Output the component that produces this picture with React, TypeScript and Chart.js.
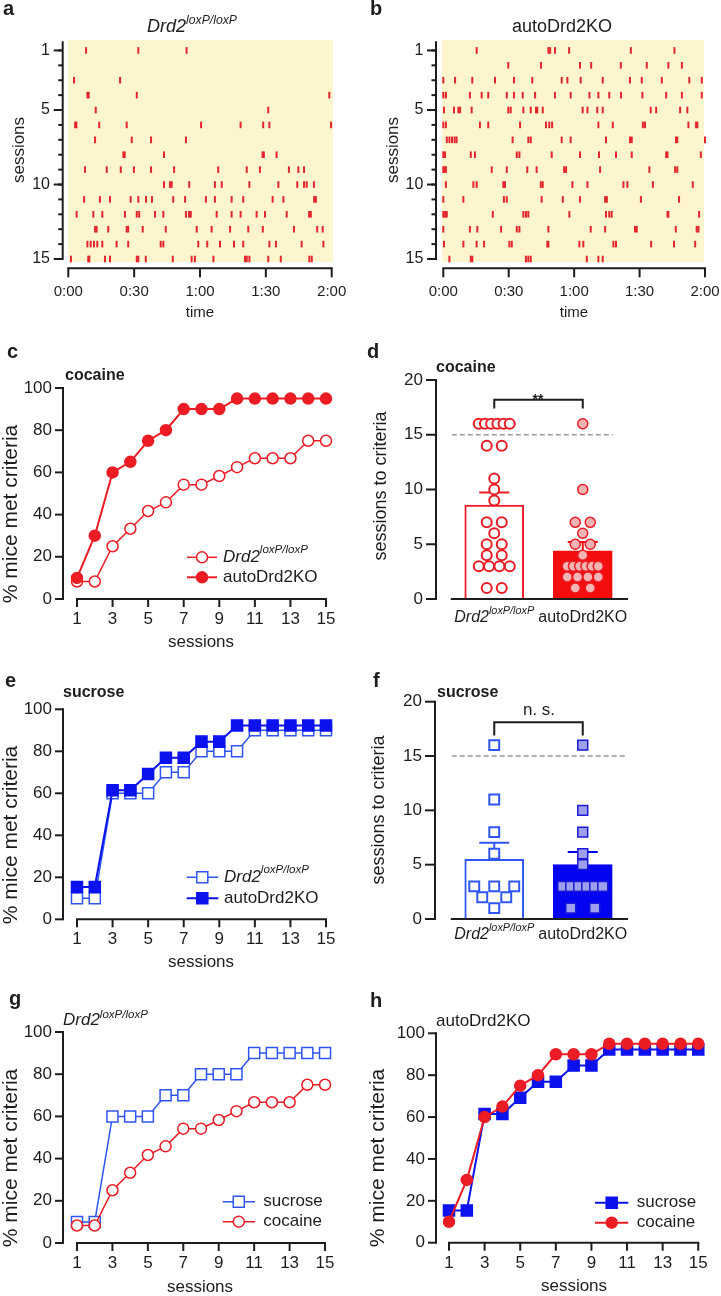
import React, { useEffect, useRef } from 'react';
import { Chart, registerables } from 'chart.js';

Chart.register(...registerables);

const W = 721;
const H = 1296;
const FONT = "'Liberation Sans', Arial, Helvetica, sans-serif";
const INK = '#1d1d1d';
const RED = '#ec1c24';
const BAR_RED = '#f40d0d';
const PINK = '#f5b4b4';
const BLUE = '#0b12ee';
const BLUE_OPEN = '#2f55f2';
const BAR_BLUE = '#0303f2';
const LAVENDER = '#9ea0ee';
const RASTER_RED = '#e3262d';
const RASTER_BG = '#fdf5cd';
const DASH_GRAY = '#9a9a9a';

// ---------------- categories & ticks ----------------
const sessionNumbers = [1, 2, 3, 4, 5, 6, 7, 8, 9, 10, 11, 12, 13, 14, 15];
const sessionTicks = [1, 3, 5, 7, 9, 11, 13, 15];
const percentTicks = [0, 20, 40, 60, 80, 100];
const criteriaTicks = [0, 5, 10, 15, 20];
const rasterMajorTicks = [1, 5, 10, 15];
const timeTicks = [0, 30, 60, 90, 120];
const timeTickLabels = ['0:00', '0:30', '1:00', '1:30', '2:00'];
const groupPositions = [1, 2];
const criterionLine = 15;

// ---------------- raster data (minutes of each lever press, one row per session) ----------------
const floxRasterTimes: number[][] = [
  [8.1, 31.9, 53.9],
  [],
  [2.6, 23.6],
  [8.7, 9.3, 31.2, 118.9],
  [12.5, 91.1],
  [3.1, 3.7, 14.1, 26.6, 60.5, 78.5, 88.8, 91.6, 119.7],
  [12.2, 28.9, 37.7, 53.6],
  [25.1, 25.7, 43.6, 88.5, 89.1, 94.9],
  [7.6, 17.5, 23.9, 29.9, 37.7, 48.2, 68.3, 81.3, 87.3, 100.5, 104.8, 107.4],
  [43.6, 46.3, 47.1, 55.1, 66.8, 69.9, 82.5, 95.7, 104.3, 107.4, 108.6, 111.9],
  [7.2, 14.4, 19.0, 28.4, 31.9, 35.4, 38.1, 47.8, 53.2, 62.7, 66.8, 74.4, 79.7, 93.1, 98.0, 112.0, 112.8],
  [3.8, 11.4, 15.5, 25.8, 31.2, 32.3, 39.5, 43.3, 53.6, 55.0, 55.8, 67.6, 74.4, 78.5, 85.8, 89.6, 99.5, 109.7, 110.5],
  [12.2, 12.9, 18.2, 26.6, 27.3, 33.9, 44.4, 58.5, 65.3, 73.7, 82.0, 88.6, 102.8, 113.4, 115.9],
  [8.7, 10.2, 11.7, 13.2, 15.5, 22.0, 27.3, 42.1, 43.3, 59.2, 63.3, 69.1, 75.5, 79.7, 91.6, 94.6, 106.3, 116.2],
  [1.2, 9.1, 9.6, 16.7, 19.0, 31.2, 31.9, 35.3, 47.6, 56.2, 57.7, 66.1, 80.5, 81.3, 82.5, 91.1, 96.8, 109.8, 110.9],
];

const koRasterTimes: number[][] = [
  [15.3, 48.2, 49.0, 51.2, 57.7, 86.0, 106.0],
  [29.8, 44.8, 62.7, 67.8, 81.4, 93.3, 103.2, 109.4],
  [0, 5.4, 13.3, 23.7, 32.4, 40.8, 54.3, 56.9, 63.0, 73.1, 85.6, 91.0, 100.2, 112.8, 118.5],
  [0, 1.2, 12.2, 17.6, 20.6, 29.1, 32.4, 36.4, 42.1, 51.2, 58.4, 67.0, 71.1, 76.1, 81.5, 91.3, 102.2, 109.4, 118.5],
  [0.3, 4.9, 6.9, 7.7, 13.0, 29.8, 30.9, 36.7, 40.1, 42.5, 43.1, 45.6, 63.9, 66.1, 70.6, 73.1, 95.1, 97.6, 108.6, 111.9],
  [0, 1.2, 16.8, 20.6, 35.2, 47.1, 48.6, 49.9, 71.1, 77.7, 91.5, 92.5, 112.4, 115.9, 116.5],
  [1.6, 2.8, 4.0, 5.2, 6.1, 31.8, 39.0, 40.1, 54.3, 58.4, 74.6, 85.6, 86.4, 106.7, 107.3, 120],
  [0, 0.8, 12.6, 14.5, 33.7, 34.9, 49.7, 62.7, 71.4, 79.2, 86.4, 102.2, 102.8, 118.1],
  [0, 0.6, 1.2, 22.2, 29.1, 38.5, 42.8, 55.4, 56.3, 71.9, 94.5, 106.3, 107.3],
  [1.2, 13.8, 15.3, 27.5, 28.3, 44.7, 45.6, 59.2, 66.1, 82.6, 84.4, 96.1, 114.4],
  [0, 9.2, 27.8, 29.1, 45.1, 54.8, 62.7, 74.2, 75.0, 90.6, 108.1],
  [0, 0.8, 1.6, 22.7, 36.7, 37.9, 39.0, 57.8, 74.6, 76.1, 77.2, 102.8, 103.2, 117.3],
  [0, 12.2, 15.6, 26.5, 33.7, 34.9, 48.2, 67.6, 74.2, 87.9, 88.7, 106.6, 116.2, 117.0],
  [0.3, 9.2, 15.3, 18.7, 30.3, 31.4, 47.7, 48.2, 62.4, 64.2, 78.0, 79.2, 95.3, 105.8, 115.5],
  [2.8, 12.6, 13.3, 37.9, 39.0, 40.1, 65.8, 71.1, 73.1],
];

// ---------------- % mice met criteria per session ----------------
const cocaineFlox = [8.3, 8.3, 25, 33.3, 41.7, 45.8, 54.2, 54.2, 58.3, 62.5, 66.7, 66.7, 66.7, 75, 75];
const cocaineKO = [10, 30, 60, 65, 75, 80, 90, 90, 90, 95, 95, 95, 95, 95, 95];
const sucroseFlox = [10, 10, 60, 60, 60, 70, 70, 80, 80, 80, 90, 90, 90, 90, 90];
const sucroseKO = [15.4, 15.4, 61.5, 61.5, 69.2, 76.9, 76.9, 84.6, 84.6, 92.3, 92.3, 92.3, 92.3, 92.3, 92.3];

// ---------------- sessions to criteria per mouse (16 = not reached) ----------------
const cocaineFloxSessions = [1, 1, 3, 3, 3, 3, 4, 4, 5, 5, 6, 7, 7, 9, 10, 11, 14, 14, 16, 16, 16, 16, 16, 16];
const cocaineKOSessions = [1, 1, 2, 2, 2, 2, 3, 3, 3, 3, 3, 3, 4, 5, 5, 6, 7, 7, 10, 16];
const sucroseFloxSessions = [1, 2, 2, 3, 3, 3, 6, 8, 11, 16];
const sucroseKOSessions = [1, 1, 3, 3, 3, 3, 3, 3, 5, 6, 8, 10, 16];

// ---------------- text helpers ----------------
type Part = { t: string; it?: boolean; sup?: boolean };
const FLOX: Part[] = [{ t: 'Drd2', it: true }, { t: 'loxP/loxP', it: true, sup: true }];
const KO: Part[] = [{ t: 'autoDrd2KO' }];

function fontOf(size: number, bold?: boolean, it?: boolean) {
  return `${it ? 'italic ' : ''}${bold ? 'bold ' : ''}${size}px ${FONT}`;
}

function drawRich(ctx: CanvasRenderingContext2D, parts: Part[], x: number, y: number, size: number, o: any = {}) {
  const segs = parts.map((p) => {
    const sz = p.sup ? size * 0.68 : size;
    const f = fontOf(sz, o.bold, p.it);
    ctx.font = f;
    return { p, f, w: ctx.measureText(p.t).width };
  });
  const total = segs.reduce((s, g) => s + g.w, 0);
  let cx = o.align === 'center' ? x - total / 2 : o.align === 'right' ? x - total : x;
  ctx.fillStyle = o.ink || INK;
  ctx.textAlign = 'left';
  ctx.textBaseline = o.baseline || 'alphabetic';
  for (const g of segs) {
    ctx.font = g.f;
    ctx.fillText(g.p.t, cx, g.p.sup ? y - size * 0.42 : y);
    cx += g.w;
  }
}

type TextItem = { text: string | Part[]; x: number; y: number; size: number; bold?: boolean; align?: string; baseline?: string; rotate?: boolean };

function textsPlugin(items: TextItem[]) {
  return {
    id: 'panelTexts',
    afterDraw(chart: any) {
      const ctx = chart.ctx as CanvasRenderingContext2D;
      for (const it of items) {
        const parts = typeof it.text === 'string' ? [{ t: it.text }] : it.text;
        ctx.save();
        if (it.rotate) {
          ctx.translate(it.x, it.y);
          ctx.rotate(-Math.PI / 2);
          drawRich(ctx, parts, 0, 0, it.size, { bold: it.bold, align: 'center', baseline: 'middle' });
        } else {
          drawRich(ctx, parts, it.x, it.y, it.size, { bold: it.bold, align: it.align || 'left', baseline: it.baseline || 'alphabetic' });
        }
        ctx.restore();
      }
    },
  };
}

function axesPlugin(spec: any) {
  return {
    id: 'panelAxes',
    afterDraw(chart: any) {
      const { ctx, chartArea: ca, scales } = chart;
      ctx.save();
      ctx.strokeStyle = INK;
      ctx.lineWidth = 2;
      const seg = (x1: number, y1: number, x2: number, y2: number, cap = 'butt') => {
        ctx.lineCap = cap;
        ctx.beginPath();
        ctx.moveTo(x1, y1);
        ctx.lineTo(x2, y2);
        ctx.stroke();
      };
      if (spec.y) {
        const s = scales.y;
        const a = spec.y;
        const X = ca.left - a.gap;
        seg(X, s.getPixelForValue(a.from), X, s.getPixelForValue(a.to), 'square');
        (a.minor || []).forEach((v: number) => {
          const p = s.getPixelForValue(v);
          seg(X - a.minorLen, p, X, p);
        });
        a.major.forEach((v: number, i: number) => {
          const p = s.getPixelForValue(v);
          seg(X - a.len, p, X, p);
          drawRich(ctx, [{ t: a.labels ? a.labels[i] : String(v) }], X - a.labelGap, p, a.size, { align: 'right', baseline: 'middle' });
        });
      }
      if (spec.x) {
        const s = scales.x;
        const a = spec.x;
        const Y = ca.bottom + a.gap;
        seg(s.getPixelForValue(a.from), Y, s.getPixelForValue(a.to), Y, 'square');
        a.major.forEach((v: number, i: number) => {
          const p = s.getPixelForValue(v);
          if (a.len) seg(p, Y, p, Y + a.len);
          const parts = a.rich ? a.rich[i] : [{ t: a.labels ? a.labels[i] : String(v) }];
          drawRich(ctx, parts, p, Y + a.labelDy, a.size, { align: 'center', baseline: 'middle' });
        });
      }
      ctx.restore();
    },
  };
}

function backgroundPlugin(fill: string, dl: number, dr: number) {
  return {
    id: 'panelBg',
    beforeDatasetsDraw(chart: any) {
      const { ctx, chartArea: ca } = chart;
      ctx.save();
      ctx.fillStyle = fill;
      ctx.fillRect(ca.left - dl, ca.top, ca.right - ca.left + dl + dr, ca.bottom - ca.top);
      ctx.restore();
    },
  };
}

function drawMarker(ctx: CanvasRenderingContext2D, ds: any, x: number, y: number) {
  ctx.fillStyle = ds.pointBackgroundColor;
  ctx.strokeStyle = ds.pointBorderColor;
  ctx.lineWidth = ds.pointBorderWidth;
  ctx.beginPath();
  if (ds.pointStyle === 'rect') {
    const s = ds.pointRadius * Math.SQRT1_2;
    ctx.rect(x - s, y - s, 2 * s, 2 * s);
  } else {
    ctx.arc(x, y, ds.pointRadius, 0, Math.PI * 2);
  }
  ctx.fill();
  ctx.stroke();
}

function legendPlugin(spec: any) {
  return {
    id: 'panelLegend',
    afterDraw(chart: any) {
      const ctx = chart.ctx as CanvasRenderingContext2D;
      for (const it of spec.items) {
        const ds = chart.data.datasets[it.ds];
        ctx.save();
        ctx.strokeStyle = ds.borderColor;
        ctx.lineWidth = ds.borderWidth;
        ctx.beginPath();
        ctx.moveTo(spec.x0, it.y);
        ctx.lineTo(spec.x1, it.y);
        ctx.stroke();
        drawMarker(ctx, ds, spec.mx, it.y);
        drawRich(ctx, it.text, spec.tx, it.y, spec.size, { baseline: 'middle' });
        ctx.restore();
      }
    },
  };
}

function barExtrasPlugin(spec: any) {
  return {
    id: 'barExtras',
    beforeDatasetsDraw(chart: any) {
      const { ctx, scales } = chart;
      const y = scales.y.getPixelForValue(spec.dash.y);
      ctx.save();
      ctx.strokeStyle = DASH_GRAY;
      ctx.lineWidth = 1.5;
      ctx.setLineDash([5, 3]);
      ctx.beginPath();
      ctx.moveTo(scales.x.getPixelForValue(spec.dash.from), y);
      ctx.lineTo(scales.x.getPixelForValue(spec.dash.to), y);
      ctx.stroke();
      ctx.restore();
    },
    afterDatasetDraw(chart: any, args: any) {
      if (args.index !== 0) return;
      const { ctx, scales } = chart;
      ctx.save();
      ctx.lineWidth = 2;
      for (const e of spec.errors) {
        const px = scales.x.getPixelForValue(e.x);
        const base = scales.y.getPixelForValue(e.mean);
        const top = scales.y.getPixelForValue(e.mean + e.sem);
        ctx.strokeStyle = e.ink;
        ctx.beginPath();
        ctx.moveTo(px, base);
        ctx.lineTo(px, top);
        ctx.moveTo(px - spec.cap / 2, top);
        ctx.lineTo(px + spec.cap / 2, top);
        ctx.stroke();
      }
      ctx.restore();
    },
    afterDraw(chart: any) {
      const { ctx, scales } = chart;
      const b = spec.bracket;
      const x1 = scales.x.getPixelForValue(b.x1);
      const x2 = scales.x.getPixelForValue(b.x2);
      const yt = scales.y.getPixelForValue(b.top);
      const yb = scales.y.getPixelForValue(b.bottom);
      ctx.save();
      ctx.strokeStyle = INK;
      ctx.lineWidth = 2;
      ctx.lineJoin = 'miter';
      ctx.beginPath();
      ctx.moveTo(x1, yb);
      ctx.lineTo(x1, yt);
      ctx.lineTo(x2, yt);
      ctx.lineTo(x2, yb);
      ctx.stroke();
      ctx.restore();
    },
  };
}

// ---------------- stats helpers ----------------
const mean = (v: number[]) => v.reduce((s, x) => s + x, 0) / v.length;
const sem = (v: number[]) => {
  const m = mean(v);
  const sd = Math.sqrt(v.reduce((s, x) => s + (x - m) * (x - m), 0) / (v.length - 1));
  return sd / Math.sqrt(v.length);
};

function swarm(values: number[], center: number, pairPx: number, maxSpreadPx: number, ppu: number) {
  const counts = new Map<number, number>();
  values.forEach((v) => counts.set(v, (counts.get(v) || 0) + 1));
  const seen = new Map<number, number>();
  return values.map((v) => {
    const n = counts.get(v) || 1;
    const k = seen.get(v) || 0;
    seen.set(v, k + 1);
    const step = n > 1 ? Math.min(pairPx, maxSpreadPx / (n - 1)) : 0;
    return { x: center + ((k - (n - 1) / 2) * step) / ppu, y: v };
  });
}

// ---------------- config builders ----------------
type Area = { l: number; t: number; r: number; b: number };

function baseOptions(area: Area) {
  return {
    responsive: false,
    maintainAspectRatio: false,
    animation: false,
    devicePixelRatio: 1,
    events: [],
    layout: { padding: { left: area.l, top: area.t, right: W - area.r, bottom: H - area.b } },
    plugins: { legend: { display: false }, tooltip: { enabled: false }, title: { display: false } },
  };
}

function rasterConfig(area: Area, rows: number[][], yGap: number, bgL: number, bgR: number, texts: TextItem[]) {
  const points = rows.flatMap((row, i) => row.map((t) => ({ x: t, y: sessionNumbers[i] })));
  return {
    type: 'scatter',
    data: {
      datasets: [
        {
          data: points,
          pointStyle: 'line',
          rotation: 90,
          pointRadius: 3.3,
          borderWidth: 2,
          borderColor: RASTER_RED,
          backgroundColor: RASTER_RED,
          clip: false,
        },
      ],
    },
    options: {
      ...baseOptions(area),
      scales: {
        x: { type: 'linear', display: false, min: 0, max: 120 },
        y: { type: 'linear', display: false, min: 0.3, max: 15.2, reverse: true },
      },
    },
    plugins: [
      backgroundPlugin(RASTER_BG, bgL, bgR),
      axesPlugin({
        y: { gap: yGap, from: 0.45, to: 15, major: rasterMajorTicks, len: 9, minor: sessionNumbers, minorLen: 4.5, labelGap: 12.7, size: 16 },
        x: { gap: 6.3, from: 0, to: 120, major: timeTicks, labels: timeTickLabels, len: 9, labelDy: 23.4, size: 15 },
      }),
      textsPlugin(texts),
    ],
  };
}

function lineSet(values: number[], color: string, shape: string, fill: string, r: number, lw: number, order: number) {
  return {
    data: sessionNumbers.map((s, i) => ({ x: s, y: values[i] })),
    borderColor: color,
    backgroundColor: fill,
    borderWidth: lw,
    pointStyle: shape,
    pointRadius: r,
    pointBackgroundColor: fill,
    pointBorderColor: color,
    pointBorderWidth: 1.5,
    tension: 0,
    fill: false,
    clip: false,
    order,
  };
}

function lineConfig(area: Area, xr: number[], datasets: any[], legend: any, texts: TextItem[]) {
  return {
    type: 'line',
    data: { datasets },
    options: {
      ...baseOptions(area),
      scales: {
        x: { type: 'linear', display: false, min: xr[0], max: xr[1] },
        y: { type: 'linear', display: false, min: 0, max: 100 },
      },
    },
    plugins: [
      axesPlugin({
        y: { gap: 0, from: 0, to: 100, major: percentTicks, len: 8, labelGap: 11, size: 17 },
        x: { gap: 0, from: 1, to: 15, major: sessionTicks, len: 8, labelDy: 20.5, size: 17 },
      }),
      legendPlugin(legend),
      textsPlugin(texts),
    ],
  };
}

function barConfig(area: Area, flox: number[], ko: number[], st: any, yGap: number, labelDy: number, dashTo: number, bracket: any, texts: TextItem[]) {
  const ppu = (area.r - area.l) / 2;
  const floxPts = swarm(flox, groupPositions[0], st.pair, st.spread, ppu);
  const koPts = swarm(ko, groupPositions[1], st.pair, st.spread, ppu);
  const means = [mean(flox), mean(ko)];
  const sems = [sem(flox), sem(ko)];
  return {
    type: 'bar',
    data: {
      datasets: [
        {
          type: 'bar',
          data: groupPositions.map((x, i) => ({ x, y: means[i] })),
          backgroundColor: ['#ffffff', st.barFill],
          borderColor: [st.openInk, st.barFill],
          borderWidth: 2,
          borderSkipped: 'bottom',
          barThickness: 59,
          order: 3,
        },
        {
          type: 'scatter',
          data: floxPts,
          pointStyle: st.shape,
          pointRadius: st.r,
          pointBorderWidth: 2,
          pointBorderColor: st.openInk,
          pointBackgroundColor: '#ffffff',
          borderColor: st.openInk,
          backgroundColor: '#ffffff',
          clip: false,
          order: 2,
        },
        {
          type: 'scatter',
          data: koPts,
          pointStyle: st.shape,
          pointRadius: st.r,
          pointBorderWidth: 1.5,
          pointBorderColor: st.koInk,
          pointBackgroundColor: st.koFill,
          borderColor: st.koInk,
          backgroundColor: st.koFill,
          clip: false,
          order: 1,
        },
      ],
    },
    options: {
      ...baseOptions(area),
      scales: {
        x: { type: 'linear', display: false, min: 0.5, max: 2.5, offset: false },
        y: { type: 'linear', display: false, min: 0, max: 20 },
      },
    },
    plugins: [
      barExtrasPlugin({
        dash: { y: criterionLine, from: 0.52, to: dashTo },
        cap: 30,
        errors: [
          { x: groupPositions[0], mean: means[0], sem: sems[0], ink: st.openInk },
          { x: groupPositions[1], mean: means[1], sem: sems[1], ink: st.barFill },
        ],
        bracket,
      }),
      axesPlugin({
        y: { gap: yGap, from: 0, to: 20, major: criteriaTicks, len: 10, labelGap: 13, size: 17 },
        x: { gap: 0, from: 0.52, to: 2.5, major: groupPositions, rich: [FLOX, KO], len: 0, labelDy: labelDy, size: 16 },
      }),
      textsPlugin(texts),
    ],
  };
}

const YLAB = '% mice met criteria';

function buildConfigs() {
  const a = rasterConfig({ l: 68.3, t: 40, r: 331.7, b: 262 }, floxRasterTimes, 5.6, 0, 1.3, [
    { text: 'a', x: 3, y: 15, size: 20, bold: true },
    { text: FLOX, x: 192, y: 32, size: 18, align: 'center' },
    { text: 'sessions', x: 19, y: 150, size: 17, rotate: true },
    { text: 'time', x: 200, y: 317, size: 15, align: 'center' },
  ]);
  const b = rasterConfig({ l: 443.3, t: 40, r: 705, b: 262 }, koRasterTimes, 7.3, 1.6, -1, [
    { text: 'b', x: 370, y: 15, size: 20, bold: true },
    { text: 'autoDrd2KO', x: 562, y: 32, size: 18, align: 'center' },
    { text: 'sessions', x: 393, y: 150, size: 17, rotate: true },
    { text: 'time', x: 574, y: 317, size: 15, align: 'center' },
  ]);

  const c = lineConfig(
    { l: 63, t: 388, r: 330, b: 599 },
    [0.213, 15.225],
    [
      lineSet(cocaineKO, RED, 'circle', RED, 5.5, 2, 0),
      lineSet(cocaineFlox, RED, 'circle', '#ffffff', 5.5, 1.5, 1),
    ],
    { x0: 187, x1: 217, mx: 202, tx: 223, size: 17, items: [{ ds: 1, text: FLOX, y: 557.3 }, { ds: 0, text: KO, y: 577.3 }] },
    [
      { text: 'c', x: 7, y: 358, size: 20, bold: true },
      { text: 'cocaine', x: 65, y: 380, size: 16, bold: true },
      { text: YLAB, x: 11, y: 514, size: 21, rotate: true },
      { text: 'sessions', x: 201, y: 646.7, size: 17, align: 'center' },
    ],
  );

  const e = lineConfig(
    { l: 63, t: 709.3, r: 330, b: 919.3 },
    [0.213, 15.225],
    [
      lineSet(sucroseKO, BLUE, 'rect', BLUE, 7.8, 2, 0),
      lineSet(sucroseFlox, BLUE_OPEN, 'rect', '#ffffff', 7.8, 1.5, 1),
    ],
    { x0: 186.7, x1: 218.3, mx: 202.3, tx: 224, size: 17, items: [{ ds: 1, text: FLOX, y: 877.3 }, { ds: 0, text: KO, y: 898.3 }] },
    [
      { text: 'e', x: 5, y: 687, size: 20, bold: true },
      { text: 'sucrose', x: 63, y: 696.7, size: 16, bold: true },
      { text: YLAB, x: 11, y: 835, size: 21, rotate: true },
      { text: 'sessions', x: 201, y: 966.7, size: 17, align: 'center' },
    ],
  );

  const g = lineConfig(
    { l: 63, t: 1032, r: 330, b: 1243 },
    [0.21, 15.28],
    [
      lineSet(cocaineFlox, RED, 'circle', '#ffffff', 5.5, 1.5, 0),
      lineSet(sucroseFlox, BLUE_OPEN, 'rect', '#ffffff', 7.8, 1.5, 1),
    ],
    { x0: 222.7, x1: 255, mx: 238.8, tx: 263.3, size: 17, items: [{ ds: 1, text: [{ t: 'sucrose' }], y: 1201.7 }, { ds: 0, text: [{ t: 'cocaine' }], y: 1221.7 }] },
    [
      { text: 'g', x: 9, y: 1005, size: 20, bold: true },
      { text: FLOX, x: 63, y: 1025, size: 17 },
      { text: YLAB, x: 11, y: 1158, size: 21, rotate: true },
      { text: 'sessions', x: 200, y: 1291.5, size: 17, align: 'center' },
    ],
  );

  const h = lineConfig(
    { l: 436, t: 1033.3, r: 702, b: 1242.7 },
    [0.27, 15.21],
    [
      lineSet(cocaineKO, RED, 'circle', RED, 5.5, 2, 0),
      lineSet(sucroseKO, BLUE, 'rect', BLUE, 7.8, 2, 1),
    ],
    { x0: 595, x1: 628.3, mx: 611.7, tx: 636.7, size: 17, items: [{ ds: 1, text: [{ t: 'sucrose' }], y: 1202.7 }, { ds: 0, text: [{ t: 'cocaine' }], y: 1222.7 }] },
    [
      { text: 'h', x: 370, y: 1007, size: 20, bold: true },
      { text: 'autoDrd2KO', x: 436, y: 1026, size: 17 },
      { text: YLAB, x: 378, y: 1158, size: 21, rotate: true },
      { text: 'sessions', x: 574, y: 1291, size: 17, align: 'center' },
    ],
  );

  const d = barConfig(
    { l: 450, t: 380, r: 627, b: 599 },
    cocaineFloxSessions,
    cocaineKOSessions,
    { pair: 15, spread: 31, shape: 'circle', r: 5, openInk: RED, barFill: BAR_RED, koInk: RED, koFill: PINK },
    14,
    19,
    2.34,
    { x1: 1, x2: 2, top: 18.2, bottom: 17.4 },
    [
      { text: 'd', x: 367, y: 358, size: 20, bold: true },
      { text: 'cocaine', x: 436, y: 371.7, size: 16, bold: true },
      { text: 'sessions to criteria', x: 381, y: 486, size: 18, rotate: true },
      { text: '**', x: 538, y: 404, size: 14, bold: true, align: 'center' },
    ],
  );

  const f = barConfig(
    { l: 450, t: 701.7, r: 627, b: 919 },
    sucroseFloxSessions,
    sucroseKOSessions,
    { pair: 24, spread: 40, shape: 'rect', r: 7, openInk: BLUE_OPEN, barFill: BAR_BLUE, koInk: '#1a1ad8', koFill: LAVENDER },
    15,
    16,
    2.5,
    { x1: 1, x2: 2, top: 18.1, bottom: 16.9 },
    [
      { text: 'f', x: 373, y: 687, size: 20, bold: true },
      { text: 'sucrose', x: 437, y: 696.7, size: 16, bold: true },
      { text: 'sessions to criteria', x: 379.5, y: 810, size: 18, rotate: true },
      { text: 'n. s.', x: 539, y: 710, size: 17, align: 'center', baseline: 'middle' },
    ],
  );

  return [a, b, c, d, e, f, g, h];
}

export default function App() {
  const refs = useRef<(HTMLCanvasElement | null)[]>([]);
  useEffect(() => {
    document.body.style.margin = '0';
    const configs = buildConfigs();
    const charts = configs.map((cfg, i) => new Chart(refs.current[i] as HTMLCanvasElement, cfg as any));
    return () => charts.forEach((ch) => ch.destroy());
  }, []);
  return (
    <div style={{ position: 'relative', width: W, height: H, background: '#ffffff', overflow: 'hidden' }}>
      {[0, 1, 2, 3, 4, 5, 6, 7].map((i) => (
        <canvas
          key={i}
          ref={(el) => {
            refs.current[i] = el;
          }}
          width={W}
          height={H}
          style={{ position: 'absolute', left: 0, top: 0, width: W, height: H }}
        />
      ))}
    </div>
  );
}
